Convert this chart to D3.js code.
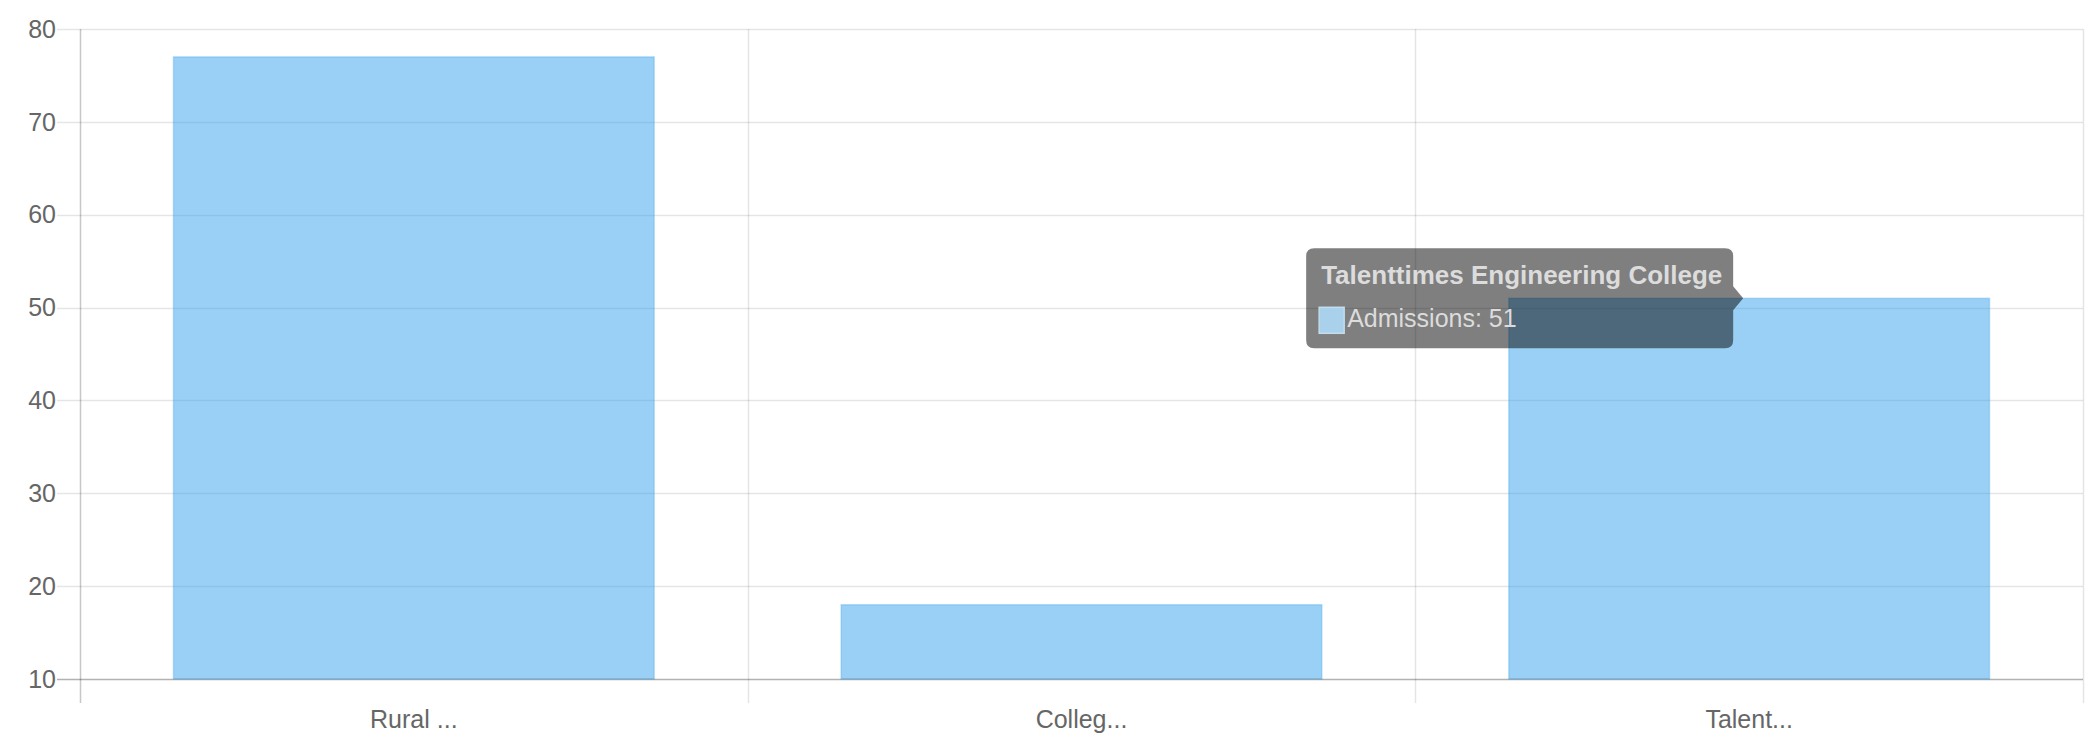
<!DOCTYPE html>
<html>
<head>
<meta charset="utf-8">
<script src="https://cdn.jsdelivr.net/npm/d3@7/dist/d3.min.js"></script>
<style>
  html, body { margin: 0; padding: 0; background: #fff; }
  svg { display: block; }
  text { font-family: "Liberation Sans", Arial, Helvetica, sans-serif; }
</style>
</head>
<body>
<svg id="chart" width="2090" height="743"></svg>
<script>
// ---- data ----
const categories = ["Rural ...", "Colleg...", "Talenttimes Engineering College"];
const tickLabels = ["Rural ...", "Colleg...", "Talent..."];
const admissions = [77, 18, 51];
const seriesName = "Admissions";
const yTicks = [10, 20, 30, 40, 50, 60, 70, 80];
const tooltipIndex = 2;

// ---- layout ----
const plotLeft = 80, plotRight = 2083, plotTop = 29, plotBottom = 679;
const tickLen = 23;
const fontSize = 25;

const svg = d3.select("#chart");

const x = d3.scaleBand().domain(categories).range([plotLeft, plotRight]).padding(0);
const y = d3.scaleLinear().domain([10, 80]).range([plotBottom, plotTop]);

const gridColor = "rgba(0,0,0,0.1)";
const axisColor = "rgba(0,0,0,0.22)";

// horizontal gridlines (extend left as tick marks)
svg.append("g").selectAll("line").data(yTicks).join("line")
  .attr("x1", plotLeft - tickLen).attr("x2", plotRight)
  .attr("y1", d => Math.round(y(d)) + 0.5).attr("y2", d => Math.round(y(d)) + 0.5)
  .attr("stroke", gridColor).attr("stroke-width", 1.5);

// vertical gridlines at band boundaries (extend down as tick marks)
const bounds = categories.map(c => x(c)).concat([plotRight]);
svg.append("g").selectAll("line").data(bounds.slice(1)).join("line")
  .attr("x1", d => Math.round(d) + 0.5).attr("x2", d => Math.round(d) + 0.5)
  .attr("y1", plotTop).attr("y2", plotBottom + tickLen + 1)
  .attr("stroke", gridColor).attr("stroke-width", 1.5);

// bars
const barFrac = 0.72;
svg.append("g").selectAll("rect").data(categories).join("rect")
  .attr("x", d => x(d) + x.bandwidth() * (1 - barFrac) / 2)
  .attr("width", x.bandwidth() * barFrac)
  .attr("y", (d, i) => y(admissions[i]))
  .attr("height", (d, i) => y(10) - y(admissions[i]))
  .attr("fill", "rgba(54,162,235,0.5)")
  .attr("stroke", "rgba(54,162,235,0.3)")
  .attr("stroke-width", 1.5);

// axis lines
svg.append("line")
  .attr("x1", plotLeft + 0.5).attr("x2", plotLeft + 0.5)
  .attr("y1", plotTop).attr("y2", plotBottom + tickLen + 1)
  .attr("stroke", axisColor).attr("stroke-width", 1.5);
svg.append("line")
  .attr("x1", plotLeft - tickLen).attr("x2", plotRight)
  .attr("y1", plotBottom + 0.5).attr("y2", plotBottom + 0.5)
  .attr("stroke", axisColor).attr("stroke-width", 1.5);

// y tick labels
svg.append("g").selectAll("text").data(yTicks).join("text")
  .attr("x", plotLeft - tickLen - 1)
  .attr("y", d => y(d))
  .attr("dy", "0.35em")
  .attr("text-anchor", "end")
  .attr("font-size", fontSize)
  .attr("fill", "#666")
  .text(d => d);

// x tick labels
svg.append("g").selectAll("text").data(categories).join("text")
  .attr("x", d => x(d) + x.bandwidth() / 2)
  .attr("y", plotBottom + 49)
  .attr("text-anchor", "middle")
  .attr("font-size", fontSize)
  .attr("fill", "#666")
  .text((d, i) => tickLabels[i]);

// tooltip
const tipCat = categories[tooltipIndex];
const tipX = x(tipCat) + x.bandwidth() / 2 - 6;
const tipY = y(admissions[tooltipIndex]);
const boxR = tipX - 10, boxL = boxR - 427, boxT = tipY - 50, boxB = tipY + 50;
const rr = 8;
const tg = svg.append("g");
const path = `M${boxL + rr},${boxT} H${boxR - rr} Q${boxR},${boxT} ${boxR},${boxT + rr}
  V${tipY - 12} L${tipX},${tipY} L${boxR},${tipY + 12}
  V${boxB - rr} Q${boxR},${boxB} ${boxR - rr},${boxB} H${boxL + rr}
  Q${boxL},${boxB} ${boxL},${boxB - rr} V${boxT + rr} Q${boxL},${boxT} ${boxL + rr},${boxT} Z`;
tg.append("path").attr("d", path).attr("fill", "rgba(0,0,0,0.5)");
tg.append("text")
  .attr("x", boxL + 15).attr("y", boxT + 36)
  .attr("font-size", 26).attr("font-weight", "bold")
  .attr("fill", "#dcdcdc")
  .text(tipCat);
tg.append("rect")
  .attr("x", boxL + 13).attr("y", boxT + 59).attr("width", 25).attr("height", 26)
  .attr("fill", "#a9d1ec").attr("stroke", "#c4dcec").attr("stroke-width", 1.5);
tg.append("text")
  .attr("x", boxL + 41).attr("y", boxT + 79)
  .attr("font-size", fontSize)
  .attr("fill", "#dcdcdc")
  .text(`${seriesName}: ${admissions[tooltipIndex]}`);
</script>
</body>
</html>
